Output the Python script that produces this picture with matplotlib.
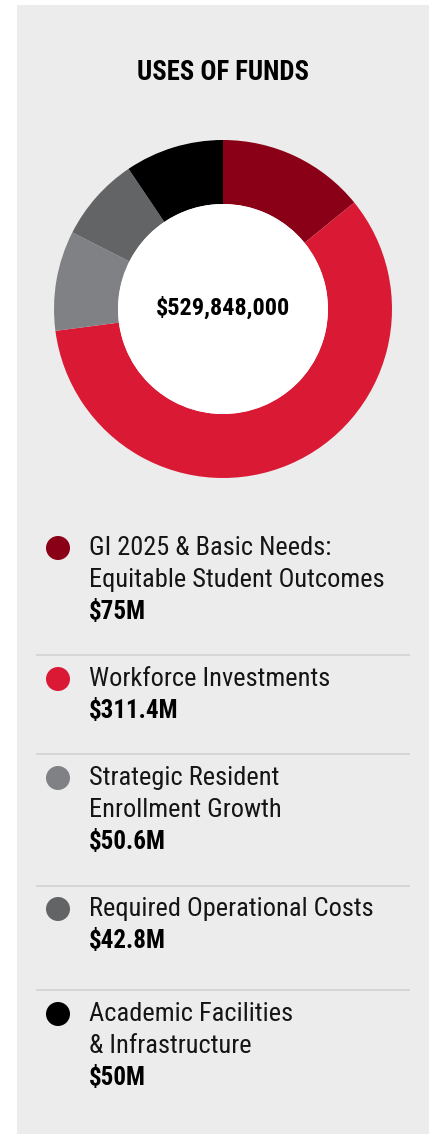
import matplotlib
matplotlib.use("Agg")
import matplotlib.pyplot as plt
from matplotlib.patches import Rectangle, Circle

categories = ["GI 2025 & Basic Needs:\nEquitable Student Outcomes",
              "Workforce Investments",
              "Strategic Resident\nEnrollment Growth",
              "Required Operational Costs",
              "Academic Facilities\n& Infrastructure"]
values = [75.0, 311.4, 50.6, 42.8, 50.0]
value_labels = ["$75M", "$311.4M", "$50.6M", "$42.8M", "$50M"]
colors = ["#8a0017", "#da1a35", "#808184", "#636466", "#000000"]
title = "USES OF FUNDS"
total_label = "$529,848,000"

FONT = ["Roboto Condensed", "DejaVu Sans"]

W, H = 432, 1134
fig = plt.figure(figsize=(W / 100, H / 100), dpi=100)
ax = fig.add_axes([0, 0, 1, 1])

def Y(py):
    return H - py

# panel
ax.add_patch(Rectangle((17, 0), 412, H - 5, facecolor="#ececec", edgecolor="none", zorder=0))

# title
ax.text(223, Y(73), title, ha="center", va="center", fontsize=19.2,
        fontweight="bold", family=FONT, color="#000000")

# donut
cx, cy, R, Rin = 223, Y(309), 169, 105
ax.pie(values, colors=colors, startangle=90, counterclock=False,
       center=(cx, cy), radius=R, wedgeprops=dict(width=R - Rin, edgecolor="none"),
       frame=True)
ax.add_patch(Circle((cx, cy), Rin, facecolor="white", edgecolor="none", zorder=5))
ax.text(cx, cy + 1, total_label, ha="center", va="center", fontsize=17.5,
        fontweight="bold", family=FONT, color="#000000", zorder=6)

# legend
marker_y = [548, 679, 778, 909, 1014]
sep_y = [655, 754, 886, 990]
line_h = 32
for i, (cat, val, col) in enumerate(zip(categories, value_labels, colors)):
    my = marker_y[i]
    ax.add_patch(Circle((58, Y(my)), 12, facecolor=col, edgecolor="none", zorder=3))
    lines = cat.split("\n")
    for j, ln in enumerate(lines):
        ax.text(89, Y(my + j * line_h), ln, ha="left", va="center", fontsize=19,
                family=FONT, color="#151515")
    ax.text(89, Y(my + len(lines) * line_h), val, ha="left", va="center",
            fontsize=18, fontweight="bold", family=FONT, color="#000000")
for sy in sep_y:
    ax.plot([36, 410], [Y(sy), Y(sy)], color="#d2d2d2", lw=1.2, solid_capstyle="butt")

ax.set_xlim(0, W)
ax.set_ylim(0, H)
ax.set_aspect("auto")
ax.axis("off")
fig.savefig("out.png", dpi=100, facecolor="white")
